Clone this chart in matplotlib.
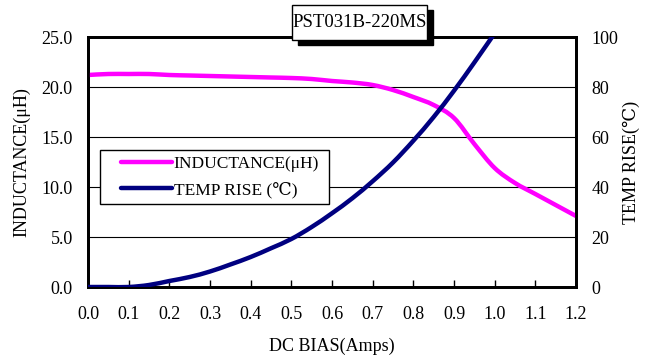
import matplotlib
matplotlib.use("Agg")
import matplotlib.pyplot as plt
from matplotlib.patches import Rectangle, PathPatch
from matplotlib.path import Path
from matplotlib.lines import Line2D

# DC bias current (A)
bias = [0.0, 0.05, 0.1, 0.15, 0.2, 0.25, 0.3, 0.35, 0.4, 0.45, 0.5, 0.55, 0.6,
        0.65, 0.7, 0.75, 0.8, 0.85, 0.9, 0.95, 1.0, 1.05, 1.1, 1.15, 1.2]
# Inductance (uH)
inductance = [21.2, 21.3, 21.3, 21.3, 21.2, 21.15, 21.1, 21.05, 21.0, 20.95, 20.9,
              20.8, 20.6, 20.45, 20.2, 19.7, 19.0, 18.2, 16.9, 14.3, 11.9, 10.4,
              9.3, 8.2, 7.1]
# Temperature rise (degC)
bias_t = [0.0, 0.05, 0.1, 0.15, 0.2, 0.25, 0.3, 0.35, 0.4, 0.45, 0.5, 0.55, 0.6,
          0.65, 0.7, 0.75, 0.8, 0.85, 0.9, 0.95, 1.0]
temp_rise = [0.0, 0.0, 0.0, 0.8, 2.4, 4.0, 6.2, 9.0, 12.0, 15.5, 19.2, 24.0, 29.5,
             35.5, 42.3, 49.8, 58.5, 68.0, 78.5, 89.8, 101.5]

x_ticks = [0.0, 0.1, 0.2, 0.3, 0.4, 0.5, 0.6, 0.7, 0.8, 0.9, 1.0, 1.1, 1.2]
l_ticks = [0.0, 5.0, 10.0, 15.0, 20.0, 25.0]
r_ticks = [0, 20, 40, 60, 80, 100]

PINK = "#FF00FF"
NAVY = "#000080"
LW = 3.2

SERIF = ["Liberation Serif", "DejaVu Serif", "DejaVu Sans"]
plt.rcParams["font.family"] = SERIF
plt.rcParams["font.size"] = 13


def smooth_path(xs, ys):
    """Smoothed line through the points as cubic Bezier segments."""
    pts = list(zip(xs, ys))
    n = len(pts)
    verts = [pts[0]]
    codes = [Path.MOVETO]
    for i in range(n - 1):
        p0 = pts[i - 1] if i > 0 else pts[i]
        p1 = pts[i]
        p2 = pts[i + 1]
        p3 = pts[i + 2] if i + 2 < n else pts[i + 1]
        c1 = (p1[0] + (p2[0] - p0[0]) / 6, p1[1] + (p2[1] - p0[1]) / 6)
        c2 = (p2[0] - (p3[0] - p1[0]) / 6, p2[1] - (p3[1] - p1[1]) / 6)
        verts += [c1, c2, p2]
        codes += [Path.CURVE4] * 3
    return Path(verts, codes)


class OffsetLineHandler:
    """Legend key drawn as a short line set in from the left edge."""

    def __init__(self, color):
        self.color = color

    def legend_artist(self, legend, orig_handle, fontsize, handlebox):
        x0, y0 = handlebox.xdescent, handlebox.ydescent
        w, h = handlebox.width, handlebox.height
        line = Line2D([x0 + 0.22 * w, x0 + w], [y0 + h / 2, y0 + h / 2],
                      color=self.color, lw=LW, solid_capstyle="round",
                      transform=handlebox.get_transform())
        handlebox.add_artist(line)
        return line


W, H = 656, 356
fig = plt.figure(figsize=(W / 100, H / 100), dpi=100)
ax = fig.add_axes([88 / W, 1 - 287 / H, 488 / W, 250 / H])
ax2 = ax.twinx()

ax.set_xlim(0, 1.2)
ax.set_ylim(0, 25)
ax2.set_ylim(0, 100)

for y in l_ticks[1:-1]:
    ax.axhline(y, color="black", lw=0.8, zorder=1)

ax.add_patch(PathPatch(smooth_path(bias, inductance), facecolor="none",
                       edgecolor=PINK, lw=LW, capstyle="round", zorder=3))
ax2.add_patch(PathPatch(smooth_path(bias_t, temp_rise), facecolor="none",
                        edgecolor=NAVY, lw=LW, capstyle="round", zorder=3))

ax.set_xticks(x_ticks)
ax.set_xticklabels([f"{v:.1f}" for v in x_ticks])
ax.set_yticks(l_ticks)
ax.set_yticklabels([f"{v:.1f}" for v in l_ticks])
ax2.set_yticks(r_ticks)
ax2.set_yticklabels([str(v) for v in r_ticks])

ax.tick_params(axis="x", direction="in", length=5, width=1, pad=14)
ax.tick_params(axis="y", length=0, pad=11)
ax2.tick_params(axis="y", length=0, pad=11)

for a in (ax, ax2):
    for s in a.spines.values():
        s.set_linewidth(2)
        s.set_color("black")

ax.set_xlabel("DC BIAS(Amps)", labelpad=10)
ax.set_ylabel("INDUCTANCE(\u03bcH)", labelpad=8)
ax2.set_ylabel("TEMP RISE(\u2103)", labelpad=3)

h1 = Line2D([], [], color=PINK)
h2 = Line2D([], [], color=NAVY)
leg = ax2.legend(handles=[h1, h2],
                 labels=["INDUCTANCE(\u03bcH)", "TEMP RISE (\u2103)"],
                 handler_map={h1: OffsetLineHandler(PINK), h2: OffsetLineHandler(NAVY)},
                 loc="upper left",
                 bbox_to_anchor=(12 / 488, 0.548, 229 / 488, 0.0),
                 mode="expand", borderaxespad=0, fancybox=False,
                 edgecolor="black", framealpha=1, fontsize=12.5,
                 handlelength=3.8, handletextpad=0.1, borderpad=0.35,
                 labelspacing=0.55)
leg.get_frame().set_linewidth(1)

# Title box with drop shadow
bx0, by0, bw, bh = 292, 5, 135, 35
fig.patches.append(Rectangle(((bx0 + 6) / W, 1 - (by0 + bh + 5) / H), bw / W, bh / H,
                             transform=fig.transFigure, facecolor="black",
                             edgecolor="black", zorder=5))
fig.patches.append(Rectangle((bx0 / W, 1 - (by0 + bh) / H), bw / W, bh / H,
                             transform=fig.transFigure, facecolor="white",
                             edgecolor="black", lw=1, zorder=6))
fig.text((bx0 + bw / 2) / W, 1 - (by0 + bh / 2) / H, "PST031B-220MS",
         ha="center", va="center", fontsize=13.5, zorder=7)

fig.savefig("out.png", dpi=100)
